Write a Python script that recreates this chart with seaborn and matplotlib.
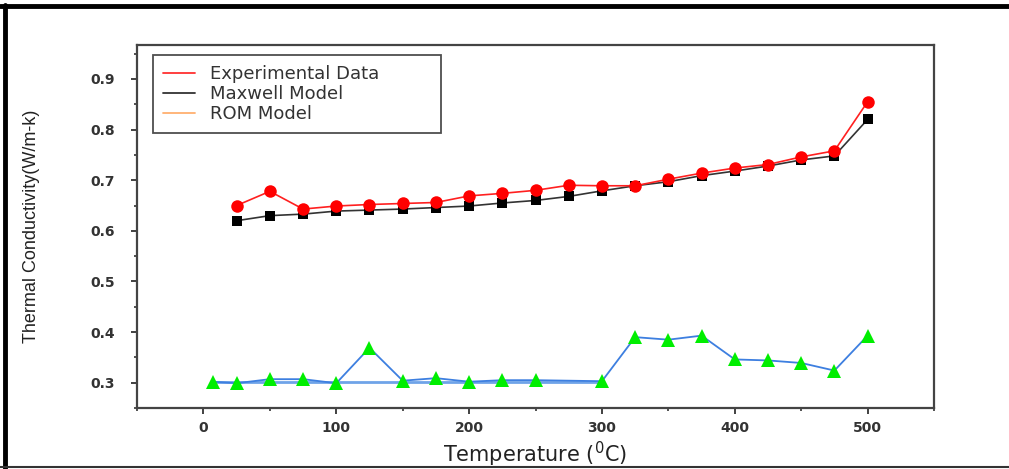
import matplotlib
matplotlib.use("Agg")
import matplotlib.pyplot as plt
import seaborn as sns
import numpy as np
from matplotlib.lines import Line2D
from matplotlib.ticker import MultipleLocator

# data
temperature = [25, 50, 75, 100, 125, 150, 175, 200, 225, 250,
               275, 300, 325, 350, 375, 400, 425, 450, 475, 500]
experimental = [0.650, 0.678, 0.643, 0.649, 0.652, 0.654, 0.656, 0.669, 0.674, 0.680,
                0.690, 0.689, 0.689, 0.702, 0.714, 0.724, 0.731, 0.746, 0.758, 0.855]
maxwell = [0.620, 0.630, 0.633, 0.639, 0.641, 0.643, 0.646, 0.649, 0.655, 0.660,
           0.668, 0.679, 0.689, 0.697, 0.709, 0.718, 0.728, 0.740, 0.748, 0.820]
rom_temperature = [7, 25, 50, 75, 100, 125, 150, 175, 200, 225,
                   250, 300, 325, 350, 375, 400, 425, 450, 475, 500]
rom = [0.302, 0.299, 0.307, 0.307, 0.299, 0.369, 0.304, 0.309, 0.302, 0.305,
       0.305, 0.303, 0.390, 0.385, 0.393, 0.346, 0.344, 0.339, 0.324, 0.393]
rom_base_temperature = [7, 300]
rom_base = [0.302, 0.302]

sns.set_style("ticks")
plt.rcParams["font.family"] = ["DejaVu Sans"]

fig = plt.figure(figsize=(10.09, 4.69), dpi=100)
ax = fig.add_axes([0.1358, 0.130, 0.7899, 0.774])

sns.lineplot(x=rom_base_temperature, y=rom_base, color="#6fa3e8", linewidth=2.0, ax=ax)
sns.lineplot(x=rom_temperature, y=rom, color="#3d7fe0", linewidth=1.3,
             marker="^", markersize=10, markerfacecolor="#00ee00",
             markeredgecolor="#00ee00", markeredgewidth=0, ax=ax)
sns.lineplot(x=temperature, y=maxwell, color="#333333", linewidth=1.2,
             marker="s", markersize=7.5, markerfacecolor="black",
             markeredgecolor="black", markeredgewidth=0, ax=ax)
sns.lineplot(x=temperature, y=experimental, color="#ff2020", linewidth=1.2,
             marker="o", markersize=9, markerfacecolor="#ff0000",
             markeredgecolor="#ff0000", markeredgewidth=0, ax=ax)

ax.set_xlim(-50, 550)
ax.set_ylim(0.25, 0.967)
ax.xaxis.set_major_locator(MultipleLocator(100))
ax.xaxis.set_minor_locator(MultipleLocator(50))
ax.yaxis.set_minor_locator(MultipleLocator(0.05))
ax.set_yticks(np.arange(0.3, 0.95, 0.1))
ax.set_yticklabels([f"{v:.1f}" for v in np.arange(0.3, 0.95, 0.1)])

for side in ["left", "right", "top", "bottom"]:
    ax.spines[side].set_visible(True)
    ax.spines[side].set_linewidth(1.6)
    ax.spines[side].set_color("#444444")
ax.tick_params(which="major", direction="out", length=4, width=1.3, color="#333333",
               labelsize=10, labelcolor="#333333")
ax.tick_params(axis="y", which="major", pad=12)
ax.tick_params(axis="x", which="major", pad=5)
ax.tick_params(which="minor", direction="out", length=2.5, width=1.2, color="#333333")
for lab in ax.get_xticklabels() + ax.get_yticklabels():
    lab.set_fontweight("bold")

ax.set_xlabel("Temperature ($^{0}$C)", fontsize=15, color="#222222", labelpad=4)
ax.set_ylabel("Thermal Conductivity(W/m-k)", fontsize=13, color="#222222",
              family=["Liberation Sans"], labelpad=36)

handles = [Line2D([0], [0], color="#ff3030", linewidth=1.3),
           Line2D([0], [0], color="#333333", linewidth=1.3),
           Line2D([0], [0], color="#ffb070", linewidth=1.3)]
leg = ax.legend(handles, ["Experimental Data", "Maxwell Model", "ROM Model"],
                loc="upper left", bbox_to_anchor=(0.02, 0.5, 0.361, 0.472), mode="expand",
                fontsize=13, frameon=True, fancybox=False, handlelength=1.8,
                labelspacing=0.12, borderpad=0.55, handletextpad=0.8, borderaxespad=0)
leg.get_frame().set_edgecolor("#222222")
leg.get_frame().set_linewidth(1.3)
for t in leg.get_texts():
    t.set_color("#333333")

# outer frame of the picture
fig.add_artist(Line2D([0, 1], [0.988, 0.988], transform=fig.transFigure, color="black", linewidth=3.5))
fig.add_artist(Line2D([0.005, 0.005], [0, 0.99], transform=fig.transFigure, color="black", linewidth=3.5))
fig.add_artist(Line2D([0, 1], [0.004, 0.004], transform=fig.transFigure, color="#333333", linewidth=1.5))

fig.savefig("out.png", dpi=100)
